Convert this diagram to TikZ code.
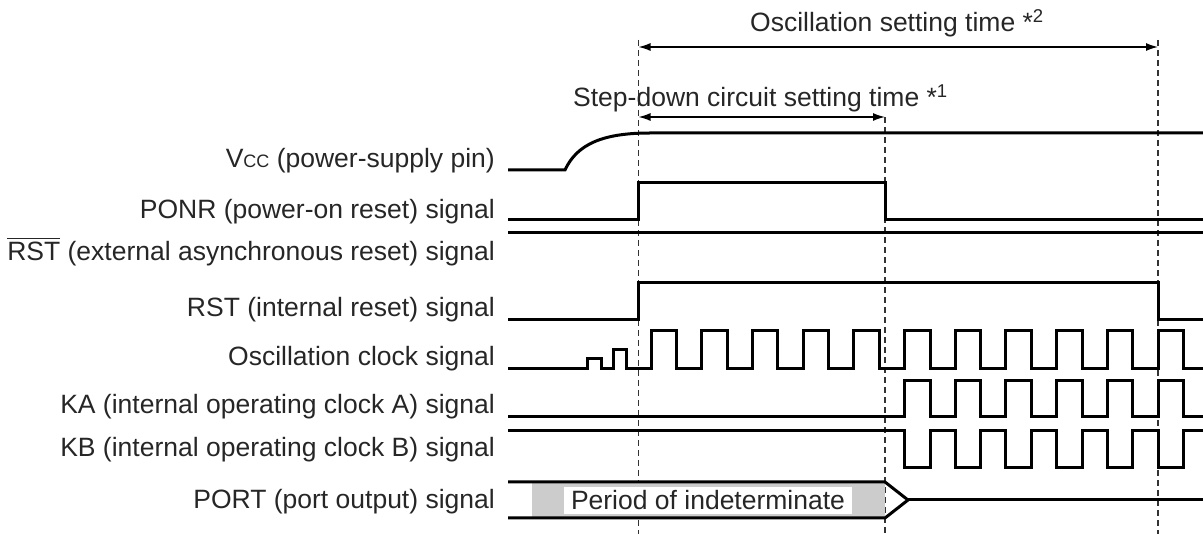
\documentclass[tikz,border=0pt]{standalone}
\usepackage{fontspec}
\setmainfont{Liberation Sans}
\usetikzlibrary{arrows.meta}
\newcommand\lblfont{\fontsize{26.5}{30}\selectfont}
\newcommand\ovlbar[1]{\vbox{\hrule height 1.3pt\kern 3pt\hbox{#1}}}
\begin{document}
\begin{tikzpicture}[x=1pt,y=-1pt,
  sig/.style={line width=3pt,line join=miter,line cap=butt,black},
  guide/.style={line width=1.4pt,dash pattern=on 6pt off 4pt,black!80},
  dim/.style={line width=1.4pt,black,{Latex[length=12pt,width=8pt]}-{Latex[length=12pt,width=8pt]}},
  lbl/.style={anchor=base east,inner sep=0pt,font=\lblfont,text=black!85},
  note/.style={anchor=base west,inner sep=0pt,font=\lblfont,text=black!85}]
\useasboundingbox (0,0) rectangle (1203,534);
% guide coordinates
\coordinate (g1t) at (638.5,40);  \coordinate (g1b) at (638.5,534);
\coordinate (g2t) at (885,117);   \coordinate (g2b) at (885,534);
\coordinate (g3t) at (1158,40);   \coordinate (g3b) at (1158,534);
\draw[guide] (g1t) -- (g1b);
\draw[guide] (g2t) -- (g2b);
\draw[guide] (g3t) -- (g3b);
% dimension arrows
\coordinate (a1l) at (638.5,47); \coordinate (a1r) at (1158,47);
\coordinate (a2l) at (638.5,117); \coordinate (a2r) at (885,117);
\draw[dim] (a1l) -- (a1r);
\draw[dim] (a2l) -- (a2r);
\node[note] (osct) at (750,32) {Oscillation setting time *\textsuperscript{2}};
\node[note] (stept) at (573,107) {Step-down circuit setting time *\textsuperscript{1}};
% labels
\node[lbl] (lvcc) at (495,168) {V{\fontsize{18}{20}\selectfont CC} (power-supply pin)};
\node[lbl] (lponr) at (495,219) {PONR (power-on reset) signal};
\node[lbl] (lrstb) at (495,261) {\ovlbar{RST} (external asynchronous reset) signal};
\node[lbl] (lrst) at (495,317) {RST (internal reset) signal};
\node[lbl] (losc) at (495,366) {Oscillation clock signal};
\node[lbl] (lka) at (495,414) {KA (internal operating clock A) signal};
\node[lbl] (lkb) at (495,457) {KB (internal operating clock B) signal};
\node[lbl] (lport) at (495,509) {PORT (port output) signal};
% PORT band
\fill[black!20] (532,482) rectangle (885,518);
\node[fill=white,inner xsep=7pt,inner ysep=0pt,minimum height=27pt,font=\lblfont,text=black!85] (pind) at (708,500.5) {Period of indeterminate};
\draw[sig] (508,482) -- (885,482) -- (908,500) -- (885,518) -- (508,518);
\draw[sig] (908,500) -- (1203,500);
% Vcc
\draw[sig] (508,170) -- (565,170) .. controls (577,144) and (603,133) .. (650,133) -- (1203,133);
% PONR
\draw[sig] (508,220) -- (638.5,220) -- (638.5,183) -- (885,183) -- (885,220) -- (1203,220);
% RST bar
\draw[sig] (508,233) -- (1203,233);
% RST
\draw[sig] (508,320) -- (638.5,320) -- (638.5,283) -- (1158,283) -- (1158,320) -- (1203,320);
% Oscillation clock
\draw[sig] (508,369) -- (587,369) -- (587,359) -- (601,359) -- (601,369) -- (613,369) -- (613,350) -- (626,350) -- (626,369) -- (651,369)
  \foreach \i in {0,...,10} { -- ({651+50.7*\i},331) -- ({676.5+50.7*\i},331) -- ({676.5+50.7*\i},369) -- ({701.7+50.7*\i},369) };
% KA
\draw[sig] (508,417) -- (904.5,417)
  \foreach \i in {0,...,5} { -- ({904.5+50.7*\i},381) -- ({930+50.7*\i},381) -- ({930+50.7*\i},417) -- ({955.2+50.7*\i},417) };
% KB
\draw[sig] (508,431) -- (904.5,431)
  \foreach \i in {0,...,5} { -- ({904.5+50.7*\i},468) -- ({930+50.7*\i},468) -- ({930+50.7*\i},431) -- ({955.2+50.7*\i},431) };
\end{tikzpicture}
\end{document}
